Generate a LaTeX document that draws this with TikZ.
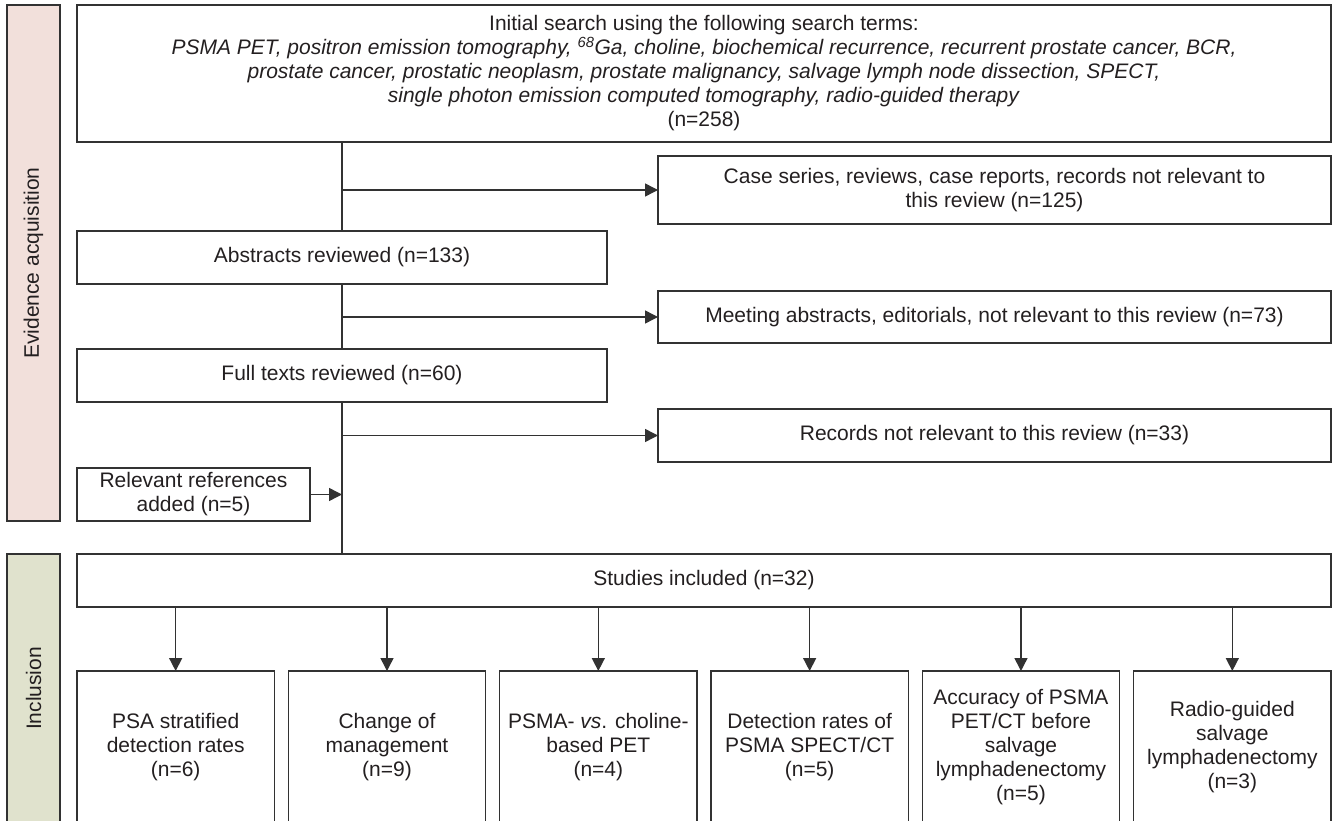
\documentclass[tikz,border=0pt]{standalone}
\usepackage{fontspec}
\setmainfont{Liberation Sans}
\usepackage{tikz}
\usetikzlibrary{positioning,arrows.meta}
\definecolor{evpink}{RGB}{242,224,219}
\definecolor{incgreen}{RGB}{224,226,205}
\definecolor{lineg}{RGB}{50,50,50}
\definecolor{txt}{RGB}{35,31,32}

\begin{document}
\begin{tikzpicture}[
  x=1pt, y=-1pt, >={Triangle[length=13pt,width=13pt]},
  font=\fontsize{21}{24}\selectfont, text=txt,
  box/.style={draw=lineg, line width=1.4pt, align=center, inner sep=0pt,
              outer sep=0pt, anchor=north west},
  side/.style={draw=lineg, line width=1.4pt, rotate=90, inner sep=0pt,
               outer sep=0pt, minimum height=53pt},
  topic/.style={box, minimum width=197.33pt, minimum height=152pt},
  ln/.style={line width=1.5pt, draw=lineg},
  fl/.style={->, ln},
]
\useasboundingbox (0,0) rectangle (1334,821);
\clip (0,0) rectangle (1334,821);

% side bars
\node[side, fill=evpink, minimum width=516pt] (evid) at (33.5,263) {Evidence acquisition};
\node[side, fill=incgreen, minimum width=269pt] (incl) at (33.5,688.5) {Inclusion};

% search and screening
\node[box, minimum width=1254pt, minimum height=137pt] (search) at (77,5)
  {Initial search using the following search terms:\\
   \textit{PSMA PET, positron emission tomography, \textsuperscript{68}Ga, choline, biochemical recurrence, recurrent prostate cancer, BCR,}\\
   \textit{prostate cancer, prostatic neoplasm, prostate malignancy, salvage lymph node dissection, SPECT,}\\
   \textit{single photon emission computed tomography, radio-guided therapy}\\
   (n=258)};
\node[box, minimum width=673pt, minimum height=68pt] (case) at (658,156)
  {Case series, reviews, case reports, records not relevant to\\this review (n=125)};
\node[box, minimum width=530pt, minimum height=53pt] (abs) at (77,231) {Abstracts reviewed (n=133)};
\node[box, minimum width=673pt, minimum height=52pt] (meet) at (658,291)
  {Meeting abstracts, editorials, not relevant to this review (n=73)};
\node[box, minimum width=530pt, minimum height=53pt] (full) at (77,349) {Full texts reviewed (n=60)};
\node[box, minimum width=673pt, minimum height=53pt] (recs) at (658,409)
  {Records not relevant to this review (n=33)};
\node[box, minimum width=233pt, minimum height=53pt] (refs) at (77,468) {Relevant references\\added (n=5)};
\node[box, minimum width=1254pt, minimum height=53pt] (studies) at (77,554) {Studies included (n=32)};

% topics
\node[topic] (t1) at (77,671) {PSA stratified\\detection rates\\(n=6)};
\node[topic, right=14pt of t1] (t2) {Change of\\management\\(n=9)};
\node[topic, right=14pt of t2] (t3) {PSMA- \textit{vs}. choline-\\based PET\\(n=4)};
\node[topic, right=14pt of t3] (t4) {Detection rates of\\PSMA SPECT/CT\\(n=5)};
\node[topic, right=14pt of t4] (t5) {Accuracy of PSMA\\PET/CT before\\salvage\\lymphadenectomy\\(n=5)};
\node[topic, right=14pt of t5] (t6) {Radio-guided\\salvage\\lymphadenectomy\\(n=3)};

% spine
\draw[ln] (search.south -| abs.north) -- (abs.north);
\draw[ln] (abs.south) -- (full.north);
\draw[ln] (full.south) -- (full.south |- studies.north);

\draw[fl] (abs.north |- case.west) -- (case.west);
\draw[fl] (abs.south |- meet.west) -- (meet.west);
\draw[fl] (full.south |- recs.west) -- (recs.west);
\draw[fl] (refs.east) -- (refs.east -| full.south);

\foreach \i in {1,...,6}
  \draw[fl] (t\i.north |- studies.south) -- (t\i.north);
\end{tikzpicture}
\end{document}
